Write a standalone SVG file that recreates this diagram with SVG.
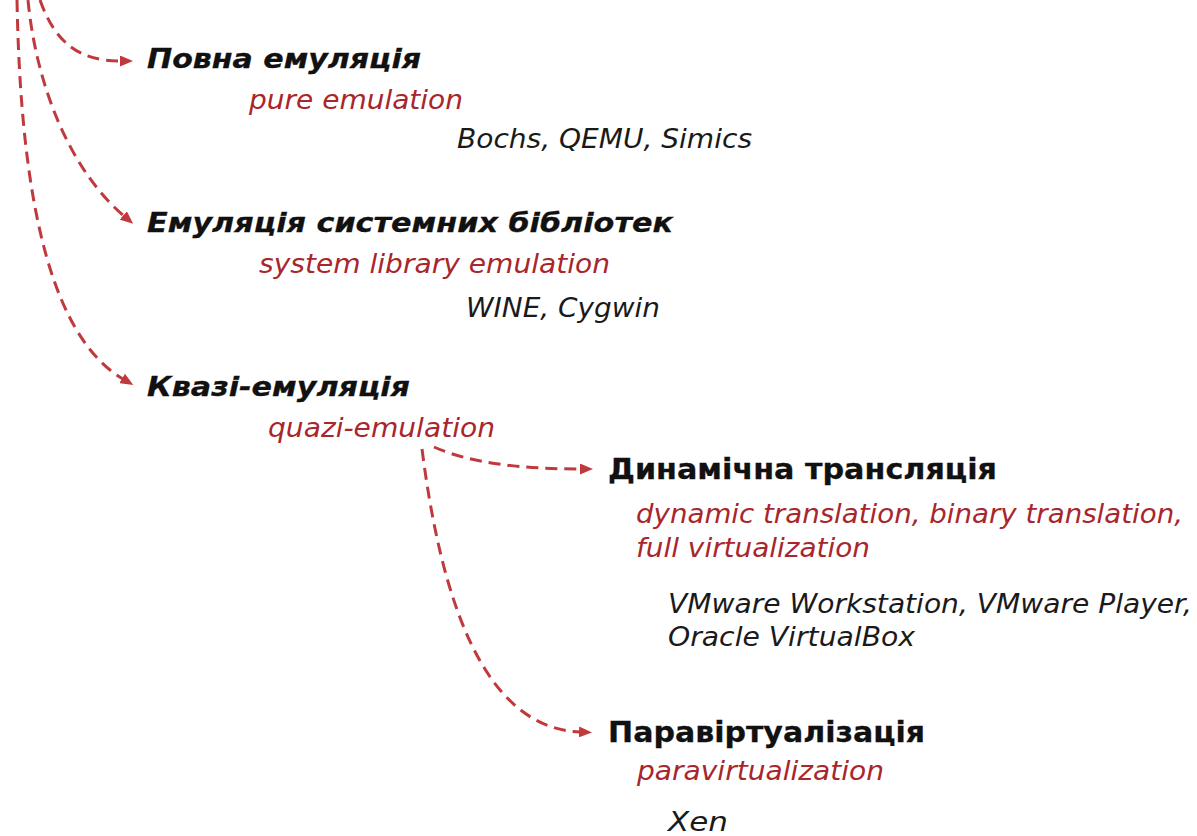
<svg xmlns="http://www.w3.org/2000/svg" width="1197" height="836" viewBox="0 0 1197 836">
<style>
text{font-family:"DejaVu Sans","Noto Sans CJK SC",sans-serif}
.h{font-size:27px;font-weight:bold;font-style:oblique;fill:#111;stroke:#111;stroke-width:0.3}
.hu{font-size:28px;font-weight:bold;fill:#111;stroke:#111;stroke-width:0.3}
.en{font-size:26px;font-style:oblique;fill:#a8262c}
.ex{font-size:26px;font-style:oblique;fill:#1a1a1a}
.c{fill:none;stroke:#c0393d;stroke-width:3;stroke-dasharray:12 7}
</style>
<defs>
<marker id="ar" markerWidth="13" markerHeight="11" refX="1" refY="5.5" orient="auto" markerUnits="userSpaceOnUse">
<path d="M0,0 L13,5.5 L0,11 Z" fill="#c0393d"/>
</marker>
</defs>
<rect width="1197" height="836" fill="#fff"/>
<g id="connectors">
<path class="c" d="M40,0 C55,42 78,61 121,61" marker-end="url(#ar)"/>
<path class="c" d="M28,0 C36,85 70,170 124,216" marker-end="url(#ar)"/>
<path class="c" d="M17,0 C20,160 40,330 123,379" marker-end="url(#ar)"/>
<path class="c" d="M434,447 C470,463 520,469 581,469" marker-end="url(#ar)"/>
<path class="c" d="M422,449 C440,590 480,728 580,732" marker-end="url(#ar)"/>
</g>
<g id="n1">
<text class="h" x="147" y="68" textLength="274" lengthAdjust="spacingAndGlyphs">Повна емуляція</text>
<text class="en" x="249" y="109" textLength="214" lengthAdjust="spacingAndGlyphs">pure emulation</text>
<text class="ex" x="457" y="148" textLength="295" lengthAdjust="spacingAndGlyphs">Bochs, QEMU, Simics</text>
</g>
<g id="n2">
<text class="h" x="147" y="232" textLength="526" lengthAdjust="spacingAndGlyphs">Емуляція системних бібліотек</text>
<text class="en" x="259" y="273" textLength="351" lengthAdjust="spacingAndGlyphs">system library emulation</text>
<text class="ex" x="466" y="317" textLength="194" lengthAdjust="spacingAndGlyphs">WINE, Cygwin</text>
</g>
<g id="n3">
<text class="h" x="147" y="396" textLength="263" lengthAdjust="spacingAndGlyphs">Квазі-емуляція</text>
<text class="en" x="268" y="437" textLength="227" lengthAdjust="spacingAndGlyphs">quazi-emulation</text>
</g>
<g id="n4">
<text class="hu" x="608" y="479" textLength="389" lengthAdjust="spacingAndGlyphs">Динамічна трансляція</text>
<text class="en" x="636" y="523" textLength="547" lengthAdjust="spacingAndGlyphs">dynamic translation, binary translation,</text>
<text class="en" x="636" y="557" textLength="234" lengthAdjust="spacingAndGlyphs">full virtualization</text>
<text class="ex" x="668" y="613" textLength="524" lengthAdjust="spacingAndGlyphs">VMware Workstation, VMware Player,</text>
<text class="ex" x="668" y="646" textLength="247" lengthAdjust="spacingAndGlyphs">Oracle VirtualBox</text>
</g>
<g id="n5">
<text class="hu" x="608" y="742" textLength="317" lengthAdjust="spacingAndGlyphs">Паравіртуалізація</text>
<text class="en" x="637" y="780" textLength="247" lengthAdjust="spacingAndGlyphs">paravirtualization</text>
<text class="ex" x="668" y="831" textLength="60" lengthAdjust="spacingAndGlyphs">Xen</text>
</g>
</svg>
